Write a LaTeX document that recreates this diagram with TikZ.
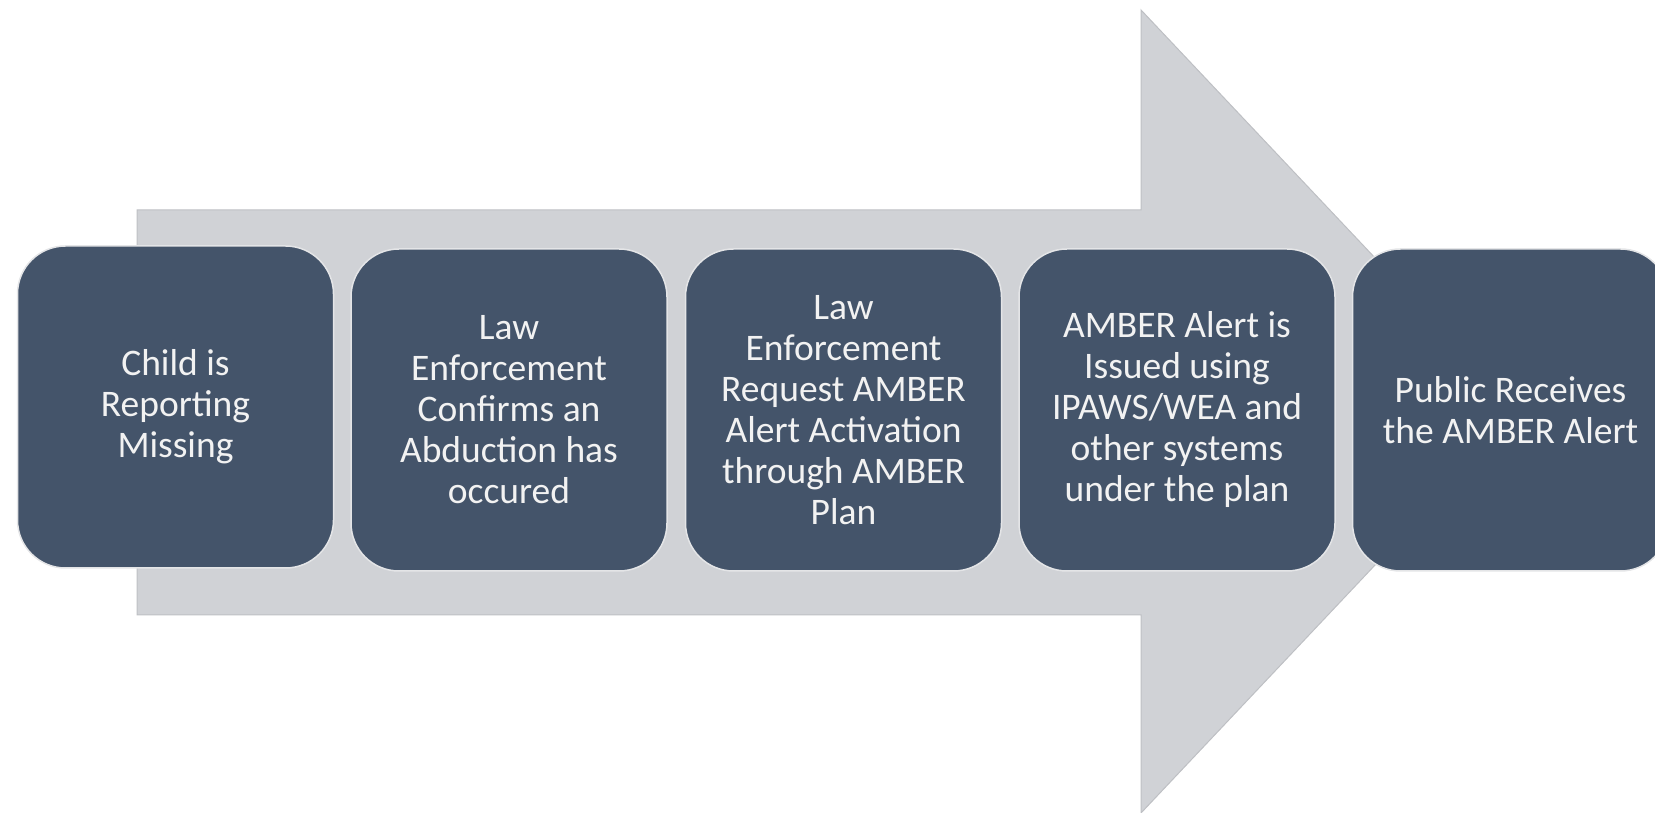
\documentclass[tikz,border=0pt]{standalone}
\usepackage{fontspec}
\setmainfont{Carlito}
\usetikzlibrary{positioning}
\definecolor{amberslate}{RGB}{68, 84, 106}
\definecolor{ambergray}{RGB}{208, 210, 214}
\definecolor{amberedge}{RGB}{190, 192, 196}
\definecolor{amberrim}{RGB}{228, 229, 231}

\begin{document}
\begin{tikzpicture}[x=1pt, y=1pt,
  stepbox/.style={draw=amberrim, line width=1.5pt, rounded corners=48pt, fill=amberslate,
    text=white!95!black, minimum width=316pt, minimum height=322pt, inner sep=0pt, align=center,
    font=\fontsize{37.5}{41}\selectfont}]
\useasboundingbox (0,0) rectangle (1655,813);
\begin{scope}
\clip (0,0) rectangle (1655,813);
\draw[amberedge, fill=ambergray, line width=1pt] (137,603) -- (1141,603) -- (1141,803) -- (1520,401.5) -- (1141,0) -- (1141,198) -- (137,198) -- cycle;
\node[stepbox] (child) at (175.5,406) {Child is\\Reporting\\Missing};
\node[stepbox, right=16pt of child, yshift=-3pt] (confirm) {Law\\Enforcement\\Confirms an\\Abduction has\\occured};
\node[stepbox, right=17pt of confirm] (request) {Law\\Enforcement\\Request AMBER\\Alert Activation\\through AMBER\\Plan};
\node[stepbox, right=16pt of request] (issue) {AMBER Alert is\\Issued using\\IPAWS/WEA and\\other systems\\under the plan};
\node[stepbox, right=16pt of issue] (public) {Public Receives\\the AMBER Alert};
\end{scope}
\end{tikzpicture}
\end{document}
